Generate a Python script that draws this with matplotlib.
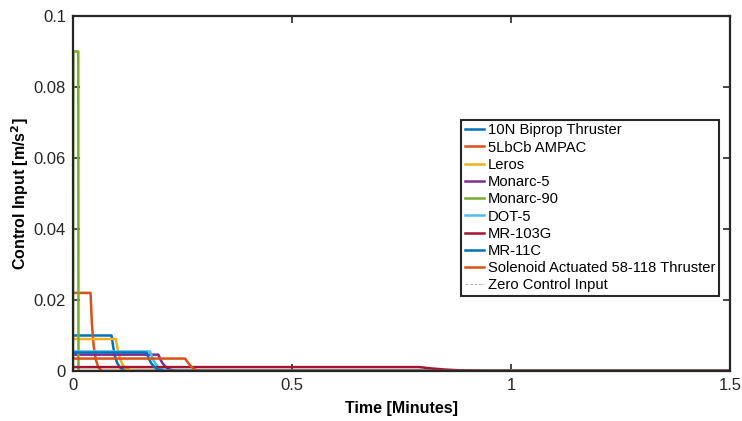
import matplotlib.pyplot as plt

plt.rcParams['font.family'] = ['Liberation Sans', 'DejaVu Sans']

# time in minutes, control input in m/s^2
labels = ['10N Biprop Thruster', '5LbCb AMPAC', 'Leros', 'Monarc-5', 'Monarc-90',
          'DOT-5', 'MR-103G', 'MR-11C', 'Solenoid Actuated 58-118 Thruster']
colors = ['#0072BD', '#D95319', '#EDB120', '#7E2F8E', '#77AC30',
          '#4DBEEE', '#A2142F', '#0072BD', '#D95319']

t_10n = [0, 0.088, 0.092, 0.096, 0.101, 0.108, 0.120, 1.5]
u_10n = [0.0100, 0.0100, 0.0066, 0.0041, 0.0022, 0.0009, 0.0, 0.0]

t_ampac = [0, 0.040, 0.043, 0.047, 0.052, 0.058, 0.066, 1.5]
u_ampac = [0.022, 0.022, 0.0135, 0.0072, 0.0032, 0.0010, 0.0, 0.0]

t_leros = [0, 0.098, 0.102, 0.107, 0.113, 0.121, 0.135, 1.5]
u_leros = [0.0090, 0.0090, 0.0060, 0.0036, 0.0018, 0.0007, 0.0, 0.0]

t_monarc5 = [0, 0.195, 0.200, 0.206, 0.213, 0.221, 0.235, 1.5]
u_monarc5 = [0.0046, 0.0046, 0.0031, 0.0019, 0.0010, 0.0004, 0.0, 0.0]

t_monarc90 = [0, 0.0008, 0.012, 0.0125, 1.5]
u_monarc90 = [0.0, 0.090, 0.090, 0.0, 0.0]

t_dot5 = [0, 0.176, 0.181, 0.187, 0.194, 0.202, 0.216, 1.5]
u_dot5 = [0.0055, 0.0055, 0.0037, 0.0023, 0.0012, 0.0005, 0.0, 0.0]

t_mr103g = [0, 0.790, 0.820, 0.850, 0.880, 0.910, 0.960, 1.5]
u_mr103g = [0.0011, 0.0011, 0.0007, 0.0004, 0.0002, 0.0001, 0.0, 0.0]

t_mr11c = [0, 0.168, 0.173, 0.179, 0.186, 0.194, 0.208, 1.5]
u_mr11c = [0.0052, 0.0052, 0.0035, 0.0021, 0.0011, 0.0004, 0.0, 0.0]

t_solenoid = [0, 0.256, 0.262, 0.268, 0.274, 0.280, 0.290, 1.5]
u_solenoid = [0.0035, 0.0035, 0.0024, 0.0015, 0.0008, 0.0003, 0.0, 0.0]

t_zero = [0, 1.5]
u_zero = [0, 0]

series = [(t_10n, u_10n), (t_ampac, u_ampac), (t_leros, u_leros),
          (t_monarc5, u_monarc5), (t_monarc90, u_monarc90), (t_dot5, u_dot5),
          (t_mr103g, u_mr103g), (t_mr11c, u_mr11c), (t_solenoid, u_solenoid)]

fig = plt.figure(figsize=(7.42, 4.21), dpi=100)
ax = fig.add_axes([0.0984, 0.1188, 0.8854, 0.8432])

for (t, u), lab, c in zip(series, labels, colors):
    ax.plot(t, u, color=c, lw=1.8, label=lab)
ax.plot(t_zero, u_zero, '--', color='#b0b0b0', lw=0.6, label='Zero Control Input')

ax.set_xlim(0, 1.5)
ax.set_ylim(0, 0.1)
ax.set_xticks([0, 0.5, 1, 1.5])
ax.set_xticklabels(['0', '0.5', '1', '1.5'])
ax.set_yticks([0, 0.02, 0.04, 0.06, 0.08, 0.1])
ax.set_yticklabels(['0', '0.02', '0.04', '0.06', '0.08', '0.1'])
ax.tick_params(direction='in', length=5, width=1.2, top=True, right=True,
               labelsize=12, colors='#262626', pad=5)
for s in ax.spines.values():
    s.set_linewidth(1.6)
    s.set_color('#262626')

ax.set_xlabel('Time [Minutes]', fontsize=11.5, fontweight='bold', labelpad=6)
ax.set_ylabel('Control Input [m/s$^\\mathbf{2}$]', fontsize=11.5, fontweight='bold', labelpad=2)

leg = ax.legend(loc='upper left', bbox_to_anchor=(0.591, 0.708), fontsize=10.6,
                frameon=True, fancybox=False, handlelength=1.3, handletextpad=0.25,
                borderpad=0.25, labelspacing=0.22, borderaxespad=0)
leg.get_frame().set_edgecolor('#262626')
leg.get_frame().set_linewidth(1.5)
leg.get_frame().set_alpha(1)

fig.savefig('out.png', dpi=100)
